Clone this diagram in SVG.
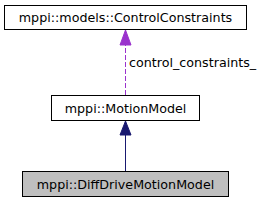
<svg xmlns="http://www.w3.org/2000/svg" width="267" height="203" viewBox="0 0 267 203">
<style>
.node rect{stroke:#000;stroke-width:1}
.node text,.lbl{font-family:"DejaVu Sans",sans-serif;font-size:12.7px;fill:#000}
.node text{text-anchor:middle}
</style>
<rect width="267" height="203" fill="#fff"/>
<g id="connectors">
<path d="M125.5,95 L125.5,45" stroke="#9a32cd" stroke-dasharray="5,2" fill="none"/>
<polygon points="120,45 125.5,30 131,45" fill="#9a32cd" stroke="#9a32cd"/>
<text class="lbl" x="129" y="67">control_constraints_</text>
<path d="M125.5,171 L125.5,135" stroke="#191970" fill="none"/>
<polygon points="120,135 125.5,121 131,135" fill="#191970" stroke="#191970"/>
</g>
<g id="node_ControlConstraints" class="node">
<rect x="4.5" y="5.5" width="242" height="24" fill="#fff"/>
<text x="125.5" y="22">mppi::models::ControlConstraints</text>
</g>
<g id="node_MotionModel" class="node">
<rect x="51.5" y="95.5" width="148" height="25" fill="#fff"/>
<text x="125.5" y="112.5">mppi::MotionModel</text>
</g>
<g id="node_DiffDriveMotionModel" class="node">
<rect x="22.5" y="171.5" width="206" height="25" fill="#bfbfbf"/>
<text x="125.5" y="188.5">mppi::DiffDriveMotionModel</text>
</g>
</svg>
